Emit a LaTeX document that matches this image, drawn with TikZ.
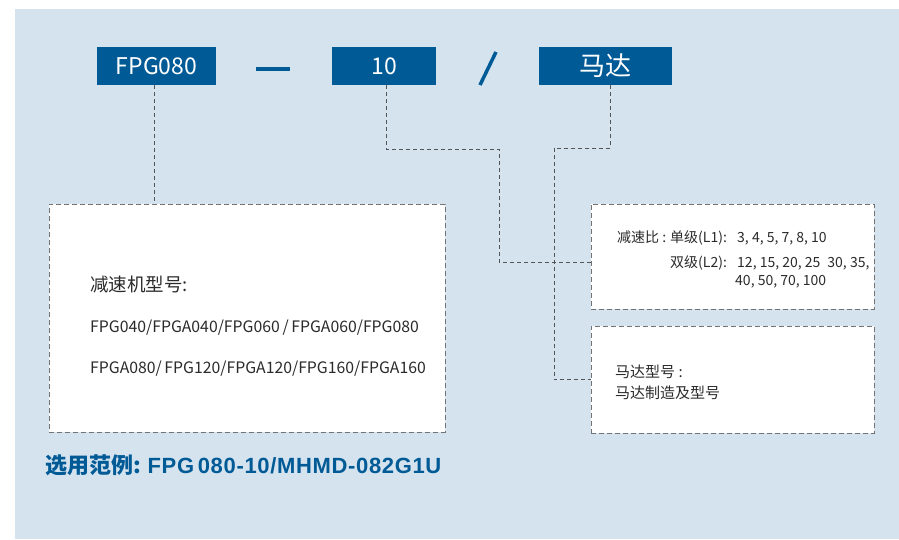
\documentclass[tikz,border=0pt]{standalone}
\usepackage{fontspec}
\setmainfont{Noto Sans CJK SC}
\newfontfamily\arialfont{Liberation Sans}
\definecolor{bgblue}{HTML}{D5E3EE}
\definecolor{codeblue}{HTML}{005A96}
\definecolor{txtgray}{HTML}{2B2B2B}
\definecolor{linegray}{HTML}{555555}
\tikzset{
  codebox/.style={fill=codeblue,text=white,minimum height=38pt,inner sep=0pt,
    font=\fontsize{23}{23}\selectfont},
  infobox/.style={draw=gray!90!black,dash pattern=on 5pt off 3pt,fill=white,
    inner sep=0pt,line width=0.8pt},
  link/.style={draw=linegray,dash pattern=on 4pt off 3pt,line width=0.8pt},
  txt/.style={anchor=base west,inner sep=0pt,text=txtgray}
}
\begin{document}
\begin{tikzpicture}[x=1pt,y=-1pt]
  \useasboundingbox (0,0) rectangle (899,539);
  % background
  \fill[bgblue] (15,9) rectangle (899,539);
  % code boxes
  \node[codebox,minimum width=119pt] (fpg) at (156.5,66) {FPG080};
  \node[codebox,minimum width=104pt] (ratio) at (384,66) {10};
  \node[codebox,minimum width=133pt,font=\fontsize{26}{26}\selectfont] (motor) at (605.5,66) {马达};
  % separators
  \fill[codeblue] (256,67) rectangle (290,71);
  \draw[codeblue,line width=3.5pt] (496,52) -- (480,85);
  % info boxes
  \node[infobox,minimum width=396pt,minimum height=228pt] (model) at (247,318) {};
  \node[infobox,minimum width=283pt,minimum height=105pt] (ratiobox) at (732.5,256.5) {};
  \node[infobox,minimum width=283pt,minimum height=107pt] (motorbox) at (732.5,379.5) {};
  % links
  \coordinate (r1) at (499,149);
  \coordinate (m1) at (554,148);
  \draw[link] ([xshift=-2.5pt]fpg.south) -- ([xshift=-2.5pt]fpg.south |- model.north);
  \draw[link] ([xshift=2pt]ratio.south) |- (r1) |- ([yshift=-5.5pt]ratiobox.west);
  \draw[link] ([xshift=5pt]motor.south) |- (m1) |- (motorbox.west);
  % model text
  \begin{scope}[every node/.style={txt,font=\fontsize{15.8}{16}\selectfont}]
    \node[font=\fontsize{18.5}{19}\selectfont] (mtitle) at (90,291) {减速机型号:};
    \node (mline1) at (90,332) {FPG040/FPGA040/FPG060\,/\,FPGA060/FPG080};
    \node (mline2) at (90,373) {FPGA080/\,FPG120/FPGA120/FPG160/FPGA160};
  \end{scope}
  % ratio text
  \begin{scope}[every node/.style={txt,font=\fontsize{14}{14}\selectfont}]
    \node (rtitle) at (617,242) {减速比 :};
    \node (single) at (670,242) {单级(L1):};
    \node (dual) at (670,267) {双级(L2):};
    \node (svals) at (737,242) {3, 4, 5, 7, 8, 10};
    \node (dvals) at (737,267) {12, 15, 20, 25\enspace30, 35,};
    \node (dvals2) at (735,285) {40, 50, 70, 100};
  \end{scope}
  % motor text
  \begin{scope}[every node/.style={txt,font=\fontsize{15}{15}\selectfont}]
    \node (mttitle) at (615,377) {马达型号 :};
    \node (mtline) at (615,398) {马达制造及型号};
  \end{scope}
  % example
  \node[anchor=base west,inner sep=0pt,text=codeblue,font=\fontsize{22}{22}\selectfont\bfseries]
    (example) at (45,473) {选用范例: {\arialfont\addfontfeature{LetterSpace=3}FPG\,080-10/MHMD-082G1U}};
\end{tikzpicture}
\end{document}
